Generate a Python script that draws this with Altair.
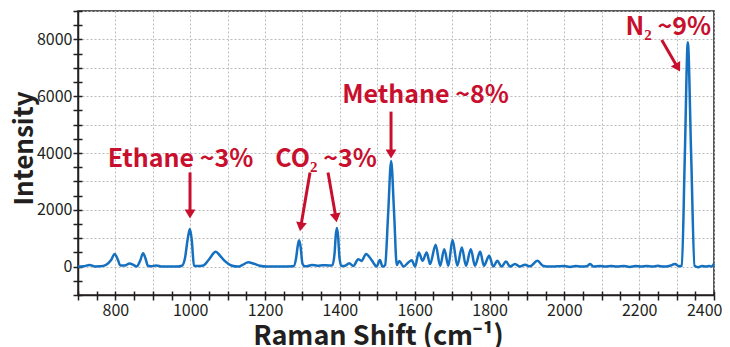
import altair as alt
import pandas as pd

# Raman spectrum
shift = [700, 715, 731, 745, 760, 775, 788, 798, 806, 813, 825, 838, 848, 857, 866, 874, 880, 887,
         895, 909, 925, 945, 965, 978, 986, 993, 999, 1004, 1010, 1020, 1035, 1050, 1068, 1080,
         1092, 1110, 1128, 1140, 1155, 1170, 1186, 1204, 1240, 1276, 1283, 1287, 1291, 1295, 1300,
         1306, 1315, 1325, 1340, 1355, 1370, 1380, 1386, 1389, 1392, 1395, 1399, 1404, 1414, 1425,
         1436, 1449, 1458, 1470, 1480, 1489, 1498, 1507, 1514, 1521, 1529, 1537, 1545, 1552, 1559,
         1570, 1583, 1592, 1601, 1611, 1621, 1632, 1641, 1656, 1668, 1679, 1690, 1701, 1714, 1726,
         1737, 1750, 1761, 1775, 1785, 1799, 1810, 1821, 1832, 1844, 1855, 1868, 1881, 1895, 1908,
         1928, 1944, 1962, 1980, 2000, 2015, 2030, 2045, 2060, 2069, 2078, 2095, 2110, 2125, 2140,
         2160, 2175, 2190, 2205, 2220, 2235, 2250, 2265, 2280, 2296, 2306, 2314, 2322, 2330, 2339,
         2348, 2358, 2368, 2378, 2388, 2393, 2400]
intensity = [0, 10, 60, 5, 10, 60, 220, 440, 260, 40, 40, 110, 60, 5, 200, 470, 300, 30,
             10, 40, 0, 5, 0, 30, 300, 950, 1320, 950, 30, 20, 40, 250, 520, 380,
             200, 40, 0, 60, 150, 100, 30, 0, 0, 10, 300, 700, 930, 700, 100,
             10, 20, 60, 30, 50, 40, 50, 500, 1100, 1360, 1100, 300, 20, 30, 120,
             20, 260, 200, 440, 320, 146, 0, 230, 0, 60, 1860, 3720, 1860, 60, 200,
             0, 146, 228, 0, 500, 205, 500, 90, 766, 30, 615, 30, 942, 30, 673,
             30, 615, 30, 520, 30, 380, 0, 205, 0, 180, 0, 90, 0, 65, 10,
             205, 20, 0, 10, 20, -10, 20, 0, 10, 90, 0, 20, 0, 20, 0,
             20, -10, 20, 0, 20, 0, 30, 0, 20, 90, 10, 30, 3900, 7900, 3900,
             30, -20, 20, 0, 20, 0, 100]

# Annotations (data units)
ann_text = ["Ethane ~3%", "CO₂ ~3%", "Methane ~8%", "N₂ ~9%"]
ann_x = [974, 1363, 1629, 2278]
ann_y = [3516, 3516, 5772, 8158]

arrow_x0 = [999.4, 1320.2, 1368.3, 1536.7, 2260.3]
arrow_y0 = [3316, 3316, 3316, 5456, 7982]
arrow_x1 = [999.4, 1296.6, 1388.3, 1536.7, 2299.8]
arrow_y1 = [1947, 1488, 1803, 4053, 7084]
tip_x = [999.4, 1293.4, 1391.5, 1536.7, 2309.2]
tip_y = [1691, 1246, 1561, 3807, 6870]
tip_angle = [0, 9.6, 350.1, 0, 330]

x_ticks = list(range(700, 2401, 50))
y_ticks = list(range(-1000, 9001, 500))

DARK = "#231F20"
RED = "#C8102E"
BLUE = "#1570BF"
FONT = "Noto Sans CJK JP"

spec_df = pd.DataFrame({"shift": shift, "intensity": intensity})
ann_df = pd.DataFrame({"text": ann_text, "x": ann_x, "y": ann_y})
arr_df = pd.DataFrame({"x0": arrow_x0, "y0": arrow_y0, "x1": arrow_x1, "y1": arrow_y1,
                       "tx": tip_x, "ty": tip_y, "angle": tip_angle})

x_scale = alt.Scale(domain=[700, 2400], nice=False, zero=False)
y_scale = alt.Scale(domain=[-1000, 9000], nice=False, zero=False)

x_axis = alt.Axis(
    values=x_ticks, format="d",
    labelExpr="datum.value % 200 === 0 ? datum.label : ''",
    labelOverlap=False, labelFlush=True, labelFlushOffset=8,
    labelFont=FONT, labelFontSize=16, labelColor=DARK, labelPadding=2,
    tickSize=5, tickColor=DARK, tickWidth=1.5,
    domainColor=DARK, domainWidth=1.5,
    grid=True, gridColor="#bdbdbd", gridDash=[2, 2], gridWidth=1,
    gridOpacity={"condition": {"test": "datum.value % 100 === 0", "value": 1}, "value": 0},
    title="Raman Shift (cm⁻¹)", titleFont=FONT, titleFontSize=27, titleFontWeight="bold",
    titleColor=DARK, titleX=300, titleY=49, titleBaseline="alphabetic", titleAlign="center",
    orient="bottom",
)
y_axis = alt.Axis(
    values=y_ticks, format="d",
    labelExpr="datum.value % 2000 === 0 ? datum.label : ''",
    labelOverlap=False, labelFlush=False,
    labelFont=FONT, labelFontSize=16, labelColor=DARK, labelPadding=1,
    tickSize=5, tickColor=DARK, tickWidth=1.5,
    domainColor=DARK, domainWidth=1.5,
    grid=True, gridColor="#bdbdbd", gridDash=[2, 2], gridWidth=1,
    gridOpacity={"condition": {"test": "datum.value % 1000 === 0", "value": 1}, "value": 0},
    title="Intensity", titleFont=FONT, titleFontSize=26, titleFontWeight="bold",
    titleColor=DARK, titleX=-46, titleY=137, titleBaseline="alphabetic", titleAlign="center",
    titleAngle=270, orient="left",
)

line = alt.Chart(spec_df).mark_line(color=BLUE, strokeWidth=2.5, interpolate="monotone").encode(
    x=alt.X("shift:Q", scale=x_scale, axis=x_axis),
    y=alt.Y("intensity:Q", scale=y_scale, axis=y_axis),
)

# inner half of the crossing tick marks
inner = alt.Chart(spec_df).mark_line(opacity=0).encode(
    x=alt.X("shift:Q", scale=x_scale, axis=alt.Axis(
        values=x_ticks, orient="bottom", offset=-4, tickSize=4, tickColor=DARK, tickWidth=1.5,
        domain=False, labels=False, grid=False, title=None)),
    y=alt.Y("intensity:Q", scale=y_scale, axis=alt.Axis(
        values=y_ticks, orient="left", offset=-4, tickSize=4, tickColor=DARK, tickWidth=1.5,
        domain=False, labels=False, grid=False, title=None)),
)

rules = alt.Chart(arr_df).mark_rule(color=RED, strokeWidth=3).encode(
    x=alt.X("x0:Q", scale=x_scale, axis=None), y=alt.Y("y0:Q", scale=y_scale, axis=None),
    x2="x1:Q", y2="y1:Q",
)
heads = alt.Chart(arr_df).mark_point(
    shape="M0,0L-0.6,-1L0.6,-1Z", filled=True, size=324, color=RED, opacity=1, strokeWidth=0
).encode(
    x=alt.X("tx:Q", scale=x_scale, axis=None), y=alt.Y("ty:Q", scale=y_scale, axis=None),
    angle=alt.Angle("angle:Q", scale=None),
)
texts = alt.Chart(ann_df).mark_text(
    font=FONT, fontSize=25, fontWeight="bold", color=RED, align="center", baseline="alphabetic"
).encode(
    x=alt.X("x:Q", scale=x_scale, axis=None), y=alt.Y("y:Q", scale=y_scale, axis=None),
    text="text:N",
)

chart = alt.layer(line, inner, rules, heads, texts).resolve_axis(
    x="independent", y="independent"
).properties(
    width=636, height=284,
    autosize=alt.AutoSizeParams(type="none"),
    padding={"left": 70, "top": 3, "right": 8, "bottom": 52},
    background="white",
).configure_view(stroke=DARK, strokeWidth=1.5)

chart.save("out.html", embed_options={"renderer": "svg", "actions": False})
